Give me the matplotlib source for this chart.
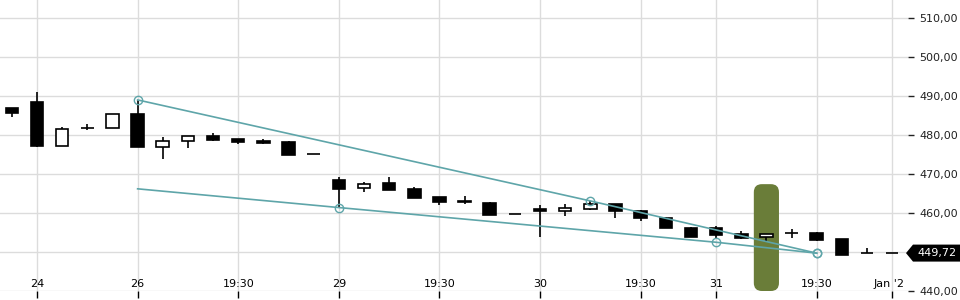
import matplotlib
matplotlib.use("Agg")
import matplotlib.pyplot as plt
from matplotlib.patches import Rectangle, FancyBboxPatch, Polygon
import matplotlib.transforms as mtransforms

# velas (indice, apertura, maximo, minimo, cierre)
opens = [487.0, 488.5, 477.3, 481.7, 481.7, 485.4, 476.8, 478.4, 479.7, 479.0,
         478.5, 478.2, 475.1, 468.5, 466.3, 467.6, 466.2, 464.1, 463.1, 462.6,
         459.7, 461.0, 460.6, 461.1, 462.3, 460.5, 458.7, 456.2, 456.1, 454.6,
         453.8, 454.8, 455.0, 453.3, 449.7, 449.72]
highs = [487.0, 491.0, 482.1, 482.8, 485.3, 489.0, 479.6, 479.7, 480.4, 479.1,
         479.0, 478.5, 475.1, 469.2, 468.0, 469.2, 466.6, 464.1, 464.4, 462.8,
         459.7, 462.1, 462.2, 463.1, 462.3, 460.8, 458.9, 456.4, 456.7, 455.4,
         454.6, 455.9, 455.2, 453.3, 451.0, 449.72]
lows = [484.7, 477.0, 477.3, 481.4, 481.7, 477.0, 473.9, 476.7, 478.5, 477.8,
        477.7, 474.9, 475.1, 461.4, 465.5, 466.0, 463.9, 462.1, 462.3, 459.5,
        459.7, 453.9, 459.3, 460.8, 458.8, 458.0, 456.1, 453.9, 453.3, 453.4,
        452.8, 453.5, 452.7, 449.2, 449.7, 449.72]
closes = [485.6, 477.2, 481.5, 481.8, 485.3, 477.0, 478.4, 479.7, 478.8, 478.3,
          478.0, 474.9, 475.1, 466.2, 467.4, 466.0, 463.9, 462.9, 462.7, 459.5,
          459.7, 460.6, 461.2, 462.2, 460.4, 458.6, 456.1, 453.9, 454.4, 453.7,
          454.6, 454.9, 453.1, 449.2, 449.7, 449.72]

tick_idx = [1, 5, 9, 13, 17, 21, 25, 28, 32, 35]
tick_labels = ["24", "26", "19:30", "29", "19:30", "30", "19:30", "31", "19:30", "Jan '26"]
y_ticks = [440, 450, 460, 470, 480, 490, 500, 510]

# lineas de tendencia
upper_x = [5, 23, 32]
upper_y = [489.0, 463.1, 449.7]
lower_x = [5, 13, 28, 32]
lower_y = [466.2, 461.4, 452.5, 449.7]

highlight_idx = 30
highlight_top = 467.4
last_price = 449.72

TEAL = "#5ea5a9"
OLIVE = "#6a7d39"
GRID = "#dcdcdc"

fig = plt.figure(figsize=(9.6, 3.0), dpi=100)
ax = fig.add_axes([0.0, 0.03, 908 / 960, 0.97])
ax.set_xlim(-0.471, 35.63)
ax.set_ylim(440, 514.62)

# rejilla
ax.set_xticks(tick_idx)
ax.set_xticklabels([""] * len(tick_idx))
ax.set_yticks(y_ticks)
ax.set_yticklabels(["" if v == 450 else "{:.2f}".format(v).replace(".", ",") for v in y_ticks])
ax.grid(True, color=GRID, linewidth=1.0)
ax.set_axisbelow(True)
for s in ax.spines.values():
    s.set_visible(False)
ax.yaxis.tick_right()
ax.tick_params(axis="y", length=4, width=1, pad=4, labelsize=8, colors="#222222")
ax.tick_params(axis="x", length=5, width=1, direction="out", colors="black")

# etiquetas del eje x dentro del area (recortadas a la derecha)
clip = mtransforms.Bbox.from_extents(0, 0, 904, 300)
for i, lbl in zip(tick_idx, tick_labels):
    t = ax.annotate(lbl, xy=(i, 0), xycoords=("data", "axes fraction"),
                    xytext=(0, 2.9), textcoords="offset points",
                    ha="center", va="baseline", fontsize=8, color="black")
    t.set_clip_on(True)
    t.set_clip_box(clip)

# resaltado verde
px_per_idx = 25.15
px_per_unit = 3.9
r = 0.32
box = FancyBboxPatch((highlight_idx - 0.5, 440), 1.0, highlight_top - 440,
                     boxstyle="round,pad=0,rounding_size=%f" % r,
                     mutation_aspect=px_per_idx / px_per_unit,
                     fc=OLIVE, ec="none", zorder=2, clip_on=False)
ax.add_patch(box)

# velas
w = 0.5
for i in range(len(opens)):
    o, h, l, c = opens[i], highs[i], lows[i], closes[i]
    ax.plot([i, i], [l, h], color="black", linewidth=1.2, zorder=3, solid_capstyle="butt")
    up = c > o
    bottom = min(o, c)
    height = abs(c - o)
    rect = Rectangle((i - w / 2, bottom), w, height,
                     facecolor="white" if up else "black",
                     edgecolor="black", linewidth=1.2, zorder=4)
    ax.add_patch(rect)

# tendencias
ax.plot(upper_x, upper_y, color=TEAL, linewidth=1.2, zorder=5)
ax.plot(lower_x, lower_y, color=TEAL, linewidth=1.2, zorder=5)
ax.plot(upper_x, upper_y, "o", ms=6, mfc="none", mec=TEAL, mew=1.0, zorder=6)
ax.plot(lower_x[1:], lower_y[1:], "o", ms=6, mfc="none", mec=TEAL, mew=1.0, zorder=6)

# precio actual: caja negra con flecha hasta el borde derecho
ftrans = mtransforms.blended_transform_factory(fig.transFigure, ax.transData)
half = 8.5 / px_per_unit
x_tip, x_body = 906 / 960, 913 / 960
tag = Polygon([(x_tip, last_price), (x_body, last_price + half), (1.0, last_price + half),
               (1.0, last_price - half), (x_body, last_price - half)],
              closed=True, fc="black", ec="none", transform=ftrans, clip_on=False, zorder=9)
ax.add_patch(tag)
ax.text(937 / 960, last_price, "{:.2f}".format(last_price).replace(".", ","),
        transform=ftrans, ha="center", va="center", fontsize=8, color="white",
        clip_on=False, zorder=10)

fig.savefig("out.png", dpi=100)
